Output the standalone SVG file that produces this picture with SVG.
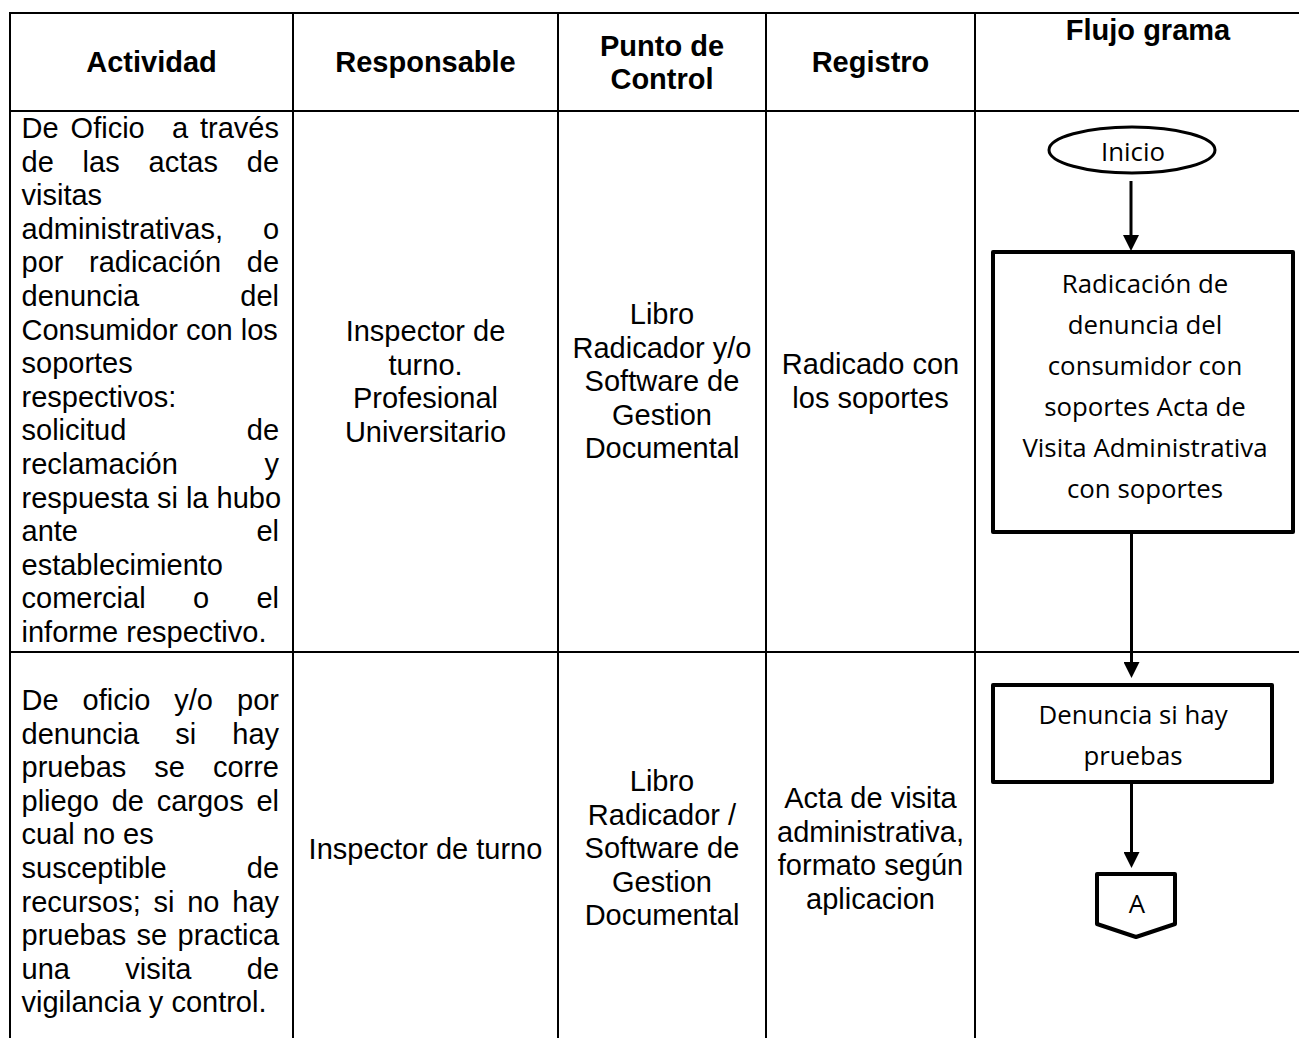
<svg xmlns="http://www.w3.org/2000/svg" width="1299" height="1038" viewBox="0 0 1299 1038">
<style>
  .grid { stroke: #000; stroke-width: 2; fill: none; }
  .t { font-family: "Liberation Sans", Arial, sans-serif; font-size: 29px; fill: #000; }
  .h { font-family: "Liberation Sans", Arial, sans-serif; font-size: 29px; font-weight: bold; fill: #000; }
  .c { text-anchor: middle; }
  .fc { font-family: "Open Sans", "Noto Sans", sans-serif; font-size: 25.8px; fill: #000; text-anchor: middle; }
  .shape { fill: #fff; stroke: #000; stroke-width: 4; stroke-linejoin: round; }
  .edge { stroke: #000; stroke-width: 3; fill: none; }
</style>
<defs>
  <marker id="arrow" markerUnits="userSpaceOnUse" viewBox="0 0 16 16" refX="6" refY="8" markerWidth="16" markerHeight="16" orient="auto">
    <path d="M0,0 L16,8 L0,16 Z" fill="#000"/>
  </marker>
</defs>
<rect width="1299" height="1038" fill="#fff"/>

<g id="table">
  <line class="grid" x1="9" y1="13" x2="1299" y2="13"/>
  <line class="grid" x1="9" y1="111" x2="1299" y2="111"/>
  <line class="grid" x1="9" y1="652" x2="1299" y2="652"/>
  <line class="grid" x1="10" y1="12" x2="10" y2="1038"/>
  <line class="grid" x1="293" y1="12" x2="293" y2="1038"/>
  <line class="grid" x1="558" y1="12" x2="558" y2="1038"/>
  <line class="grid" x1="766" y1="12" x2="766" y2="1038"/>
  <line class="grid" x1="975" y1="12" x2="975" y2="1038"/>
</g>

<g id="header">
  <text class="h c" x="151.5" y="72">Actividad</text>
  <text class="h c" x="425.5" y="72">Responsable</text>
  <text class="h c"><tspan x="662" y="55.5">Punto de</tspan><tspan x="662" y="89">Control</tspan></text>
  <text class="h c" x="870.5" y="72">Registro</text>
  <text class="h c" x="1148" y="40">Flujo grama</text>
</g>

<g id="row1-actividad" class="t">
  <text y="138"><tspan x="21.5">De</tspan><tspan x="70.6">Oficio</tspan><tspan x="171.9">a</tspan><tspan x="200">través</tspan></text>
  <text y="171.6"><tspan x="21.5">de</tspan><tspan x="82.6">las</tspan><tspan x="148.6">actas</tspan><tspan x="246.8">de</tspan></text>
  <text x="21.5" y="205.2">visitas</text>
  <text y="238.8"><tspan x="21.5">administrativas,</tspan><tspan x="262.9">o</tspan></text>
  <text y="272.4"><tspan x="21.5">por</tspan><tspan x="89">radicación</tspan><tspan x="246.8">de</tspan></text>
  <text y="306"><tspan x="21.5">denuncia</tspan><tspan x="240.3">del</tspan></text>
  <text x="21.5" y="339.6">Consumidor con los</text>
  <text x="21.5" y="373.2">soportes</text>
  <text x="21.5" y="406.8">respectivos:</text>
  <text y="440.4"><tspan x="21.5">solicitud</tspan><tspan x="246.8">de</tspan></text>
  <text y="474"><tspan x="21.5">reclamación</tspan><tspan x="264.5">y</tspan></text>
  <text x="21.5" y="507.6">respuesta si la hubo</text>
  <text y="541.2"><tspan x="21.5">ante</tspan><tspan x="256.4">el</tspan></text>
  <text x="21.5" y="574.8">establecimiento</text>
  <text y="608.4"><tspan x="21.5">comercial</tspan><tspan x="192.9">o</tspan><tspan x="256.4">el</tspan></text>
  <text x="21.5" y="642">informe respectivo.</text>
</g>

<g id="row1-responsable">
  <text class="t c"><tspan x="425.5" y="341">Inspector de</tspan><tspan x="425.5" y="374.6">turno.</tspan><tspan x="425.5" y="408.2">Profesional</tspan><tspan x="425.5" y="441.8">Universitario</tspan></text>
</g>
<g id="row1-punto">
  <text class="t c"><tspan x="662" y="324">Libro</tspan><tspan x="662" y="357.6">Radicador y/o</tspan><tspan x="662" y="391.2">Software de</tspan><tspan x="662" y="424.8">Gestion</tspan><tspan x="662" y="458.4">Documental</tspan></text>
</g>
<g id="row1-registro">
  <text class="t c"><tspan x="870.5" y="374">Radicado con</tspan><tspan x="870.5" y="407.6">los soportes</tspan></text>
</g>

<g id="row2-actividad" class="t">
  <text y="710"><tspan x="21.5">De</tspan><tspan x="82.6">oficio</tspan><tspan x="174.3">y/o</tspan><tspan x="237.1">por</tspan></text>
  <text y="743.6"><tspan x="21.5">denuncia</tspan><tspan x="175.3">si</tspan><tspan x="232.3">hay</tspan></text>
  <text y="777.2"><tspan x="21.5">pruebas</tspan><tspan x="154.3">se</tspan><tspan x="212.9">corre</tspan></text>
  <text y="810.8"><tspan x="21.5">pliego</tspan><tspan x="111.7">de</tspan><tspan x="156.7">cargos</tspan><tspan x="256.4">el</tspan></text>
  <text x="21.5" y="844.4">cual no es</text>
  <text y="878"><tspan x="21.5">susceptible</tspan><tspan x="246.8">de</tspan></text>
  <text y="911.6"><tspan x="21.5">recursos;</tspan><tspan x="153.5">si</tspan><tspan x="187.2">no</tspan><tspan x="232.3">hay</tspan></text>
  <text y="945.2"><tspan x="21.5">pruebas</tspan><tspan x="136.6">se</tspan><tspan x="177.5">practica</tspan></text>
  <text y="978.8"><tspan x="21.5">una</tspan><tspan x="125.3">visita</tspan><tspan x="246.8">de</tspan></text>
  <text x="21.5" y="1012.4">vigilancia y control.</text>
</g>

<g id="row2-responsable">
  <text class="t c" x="425.5" y="859">Inspector de turno</text>
</g>
<g id="row2-punto">
  <text class="t c"><tspan x="662" y="791">Libro</tspan><tspan x="662" y="824.6">Radicador /</tspan><tspan x="662" y="858.2">Software de</tspan><tspan x="662" y="891.8">Gestion</tspan><tspan x="662" y="925.4">Documental</tspan></text>
</g>
<g id="row2-registro">
  <text class="t c"><tspan x="870.5" y="808">Acta de visita</tspan><tspan x="870.5" y="841.6">administrativa,</tspan><tspan x="870.5" y="875.2">formato según</tspan><tspan x="870.5" y="908.8">aplicacion</tspan></text>
</g>

<g id="connectors">
  <line class="edge" x1="1131" y1="181" x2="1131" y2="241" marker-end="url(#arrow)"/>
  <line class="edge" x1="1131.5" y1="534" x2="1131.5" y2="668" marker-end="url(#arrow)"/>
  <line class="edge" x1="1131.5" y1="784" x2="1131.5" y2="858" marker-end="url(#arrow)"/>
</g>

<g id="n-inicio">
  <ellipse cx="1132" cy="150" rx="83" ry="23" fill="#fff" stroke="#000" stroke-width="3"/>
  <text class="fc" x="1133" y="161">Inicio</text>
</g>

<g id="n-radicacion">
  <rect class="shape" x="993" y="252" width="300" height="280"/>
  <text class="fc"><tspan x="1145" y="293">Radicación de</tspan><tspan x="1145" y="334">denuncia del</tspan><tspan x="1145" y="375">consumidor con</tspan><tspan x="1145" y="416">soportes Acta de</tspan><tspan x="1145" y="457">Visita Administrativa</tspan><tspan x="1145" y="498">con soportes</tspan></text>
</g>

<g id="n-denuncia">
  <rect class="shape" x="993" y="685" width="279" height="97"/>
  <text class="fc"><tspan x="1133" y="724">Denuncia si hay</tspan><tspan x="1133" y="765">pruebas</tspan></text>
</g>

<g id="n-connA">
  <path class="shape" d="M1097,874 L1175,874 L1175,924 L1136,937 L1097,924 Z"/>
  <text class="fc" x="1137" y="913">A</text>
</g>
</svg>
